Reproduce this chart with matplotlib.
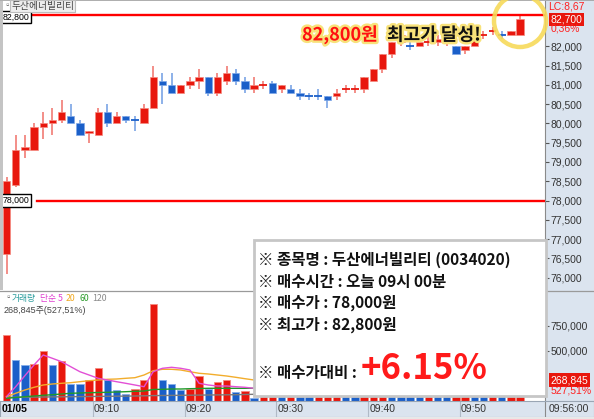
import matplotlib
matplotlib.use('Agg')
import matplotlib.pyplot as plt
import matplotlib.patheffects as pe
from matplotlib.patches import Rectangle, Ellipse
from matplotlib.ticker import FuncFormatter

plt.rcParams['font.family'] = ['Noto Sans CJK KR', 'DejaVu Sans']
NARROW = ['Liberation Sans Narrow', 'Liberation Sans', 'DejaVu Sans']

# 1-minute candles, 09:00 .. 09:56
opens = [76600, 78400, 79300, 79300, 79900, 80000, 80100, 80200, 80000, 79750,
         79700, 80300, 80000, 80200, 80100, 80000, 80400, 81100, 81000, 80800,
         81000, 81100, 81200, 80800, 81100, 81300, 81100, 80900, 81000, 81050,
         80900, 80900, 80800, 80700, 80700, 80700, 80700, 80900, 80900, 80900,
         81100, 81400, 81800, 82100, 82000, 82000, 82100, 82100, 82100, 82000,
         81900, 82000, 82300, 82400, 82300, 82300, 82300]
highs = [78600, 79700, 79700, 80000, 80300, 80400, 80600, 80500, 80100, 79800,
         80400, 80500, 80300, 80200, 80200, 80500, 81500, 81300, 81300, 81000,
         81200, 81400, 81200, 81300, 81500, 81400, 81200, 81200, 81100, 81100,
         81000, 81000, 80900, 80800, 80900, 80700, 80900, 81000, 81000, 81200,
         81400, 81800, 82100, 82400, 82100, 82100, 82300, 82300, 82200, 82000,
         82000, 82300, 82400, 82500, 82400, 82400, 82800]
lows = [76100, 78350, 79100, 79300, 79600, 79700, 80000, 80000, 79700, 79500,
        79700, 79900, 80000, 80000, 79800, 80000, 80400, 80500, 80800, 80800,
        80900, 80900, 80700, 80700, 81000, 81000, 80800, 80800, 80900, 80800,
        80800, 80800, 80600, 80600, 80600, 80400, 80600, 80800, 80800, 80800,
        81100, 81300, 81700, 82000, 81900, 82000, 82000, 82000, 82000, 81800,
        81800, 82000, 82200, 82300, 82200, 82300, 82300]
closes = [78500, 79300, 79400, 79900, 80000, 80100, 80300, 80000, 79700, 79800,
          80300, 80000, 80200, 80100, 80100, 80400, 81200, 81000, 80800, 81000,
          81100, 81200, 80800, 81200, 81300, 81100, 80900, 81000, 81000, 80800,
          81000, 80800, 80700, 80700, 80700, 80600, 80800, 80900, 80900, 81200,
          81400, 81800, 82100, 82300, 82000, 82100, 82100, 82200, 82100, 81800,
          82000, 82300, 82300, 82400, 82300, 82400, 82700]
blue_doji = [14, 33, 34, 44, 54]

volumes = [660000, 405000, 360000, 370000, 495000, 360000, 395000, 170000, 165000, 205000,
           330000, 205000, 105000, 70000, 120000, 210000, 970000, 205000, 165000, 105000,
           115000, 250000, 115000, 190000, 205000, 90000, 95000, 22000, 60000, 130000,
           90000, 110000, 80000, 70000, 95000, 120000, 150000, 100000, 80000, 140000,
           260000, 300000, 240000, 200000, 170000, 130000, 160000, 120000, 90000, 110000,
           180000, 150000, 120000, 140000, 100000, 200000, 268845]
ma5 = [38000, 138000, 248000, 355000, 455000, 422000, 388000, 338000, 288000, 255000,
       222000, 205000, 188000, 172000, 155000, 138000, 288000, 322000, 332000, 322000,
       305000, 172000, 155000, 145000, 145000, 138000, 132000, 122000]
ma20 = [38000, 72000, 105000, 132000, 155000, 165000, 172000, 178000, 188000, 198000,
        205000, 212000, 215000, 222000, 228000, 255000, 298000, 312000, 312000, 305000,
        288000, 272000, 265000, 255000, 245000, 232000, 218000, 205000]
ma60 = [22000, 30000, 38000, 45000, 52000, 58000, 65000, 72000, 75000, 78000,
        80000, 82000, 85000, 88000, 92000, 95000, 110000, 112000, 115000, 115000,
        118000, 120000, 122000, 122000, 122000, 122000, 122000, 122000]
ma120 = [32000, 32000, 33000, 34000, 35000, 36000, 37000, 38000, 39000, 40000,
         41000, 42000, 43000, 44000, 45000, 47000, 49000, 50000, 51000, 52000,
         53000, 54000, 55000, 56000, 57000, 58000, 60000, 62000]

time_labels = ['09:10', '09:20', '09:30', '09:40', '09:50']
time_pos = [10, 20, 30, 40, 50]
price_ticks = list(range(76000, 82001, 500))
info_lines = ['※ 종목명 : 두산에너빌리티 (0034020)', '※ 매수시간 : 오늘 09시 00분',
              '※ 매수가 : 78,000원', '※ 최고가 : 82,800원']

RED = '#e8170d'
BLUE = '#1a5fc9'
W, H = 594, 419
PANEL = '#dbe4ef'


def box(x0, y0, x1, y1):
    return [x0 / W, 1 - y1 / H, (x1 - x0) / W, (y1 - y0) / H]


def fpt(x, y):
    return x / W, 1 - y / H


fig = plt.figure(figsize=(W / 100, H / 100), dpi=100)
fig.patch.set_facecolor('white')
fig.add_artist(Rectangle(fpt(545, 400.5), 49 / W, 400.5 / H, transform=fig.transFigure,
                         facecolor=PANEL, edgecolor='none', zorder=-1))

ax = fig.add_axes(box(0, 1, 545, 290))
axv = fig.add_axes(box(0, 291, 545, 400.5), sharex=ax)
axx = fig.add_axes(box(0, 400.5, 594, 416.5))

xmin, xmax = -0.709, 58.72
idx = list(range(len(closes)))

# candles
for i in idx:
    o, h, l, c = opens[i], highs[i], lows[i], closes[i]
    up = c > o or (c == o and i not in blue_doji)
    col = RED if up else BLUE
    wick = '#f07068' if up else '#6f9de3'
    ax.vlines(i, l, h, color=wick, lw=1.1, zorder=2)
    if c == o:
        ax.hlines(c, i - 0.42, i + 0.42, color=col, lw=1.3, zorder=3)
    else:
        ax.bar(i, abs(c - o), bottom=min(o, c), width=0.8, color=col,
               edgecolor='#f58a80' if up else '#7fa8e8', lw=0.5, zorder=3)

ax.axhline(82800, xmin=33 / 545, xmax=1, color='#ff0000', lw=1.7, zorder=4)
ax.axhline(78000, xmin=37 / 545, xmax=1, color='#ff0000', lw=1.7, zorder=4)
for lvl, txt in [(82760, '82,800'), (78000, '78,000')]:
    ax.text(0.004, lvl, txt, transform=ax.get_yaxis_transform(), fontsize=6.3,
            family=NARROW, va='center', ha='left', zorder=5,
            bbox=dict(boxstyle='square,pad=0.2', facecolor='white', edgecolor='black', lw=1))

ax.set_xlim(xmin, xmax)
ax.set_ylim(75679, 83176)
ax.yaxis.tick_right()
ax.set_yticks(price_ticks)
ax.yaxis.set_major_formatter(FuncFormatter(lambda v, p: f'{int(v):,}'))
ax.tick_params(axis='y', length=3, color='#555555', labelsize=7.5, labelcolor='#333333', pad=1)
ax.tick_params(axis='x', bottom=False, labelbottom=False)
plt.setp(ax.get_yticklabels(), family=NARROW)
for s in ['top', 'left', 'bottom']:
    ax.spines[s].set_visible(False)
ax.spines['right'].set_color('#8a8a8a')
ax.patch.set_alpha(0)

# right-side markers
ax.text(1.005, 83030, 'LC:8,67', transform=ax.get_yaxis_transform(), color='#ff2020',
        fontsize=7.5, family=NARROW, va='center', ha='left')
ax.text(1.01, 82690, '82,700', transform=ax.get_yaxis_transform(), color='white',
        fontsize=7.5, family=NARROW, va='center', ha='left',
        bbox=dict(boxstyle='square,pad=0.15', facecolor='#e8170d', edgecolor='none'))
ax.text(1.01, 82460, '0,36%', transform=ax.get_yaxis_transform(), color='#ff2020',
        fontsize=7.5, family=NARROW, va='center', ha='left')

# volume
vcols = [RED if i == 0 or volumes[i] >= volumes[i - 1] else BLUE for i in idx]
vedge = ['#f58a80' if c == RED else '#86aeea' for c in vcols]
axv.bar(idx, volumes, width=0.8, color=vcols, edgecolor=vedge, lw=0.6, zorder=2)
mi = list(range(len(ma5)))
axv.plot(mi, ma120, color='#7a7a7a', lw=1, zorder=3)
axv.plot(mi, ma60, color='#1f9a2a', lw=1, zorder=3)
axv.plot(mi, ma20, color='#f2ad2c', lw=1, zorder=3)
axv.plot(mi, ma5, color='#e24fd6', lw=1, zorder=3)
axv.set_ylim(0, 1095000)
axv.yaxis.tick_right()
axv.set_yticks([500000, 750000])
axv.yaxis.set_major_formatter(FuncFormatter(lambda v, p: f'{int(v):,}'))
axv.tick_params(axis='y', length=3, color='#555555', labelsize=7.5, labelcolor='#333333', pad=1)
axv.tick_params(axis='x', bottom=False, labelbottom=False)
plt.setp(axv.get_yticklabels(), family=NARROW)
for s in ['top', 'left', 'bottom']:
    axv.spines[s].set_visible(False)
axv.spines['right'].set_color('#8a8a8a')
axv.patch.set_alpha(0)
axv.text(1.01, 205000, '268,845', transform=axv.get_yaxis_transform(), color='white',
         fontsize=7.5, family=NARROW, va='center', ha='left',
         bbox=dict(boxstyle='square,pad=0.15', facecolor='#e8170d', edgecolor='none'))
axv.text(1.01, 105000, '527,51%', transform=axv.get_yaxis_transform(), color='#ff2020',
         fontsize=7.5, family=NARROW, va='center', ha='left')

# legend of volume panel, laid out piece by piece
renderer = fig.canvas.get_renderer()
ly = 1 - 298 / H
fig.text(4 / W, ly, '▫', fontsize=5.5, color='#555555', va='center')
parts = [('거래량', '#2a9d9d'), ('단순 5', '#e040d0'), ('20', '#f0a820'),
         ('60', '#2a9a2a'), ('120', '#8a8a8a')]
cx = 12
for t, c in parts:
    tx = fig.text(cx / W, ly, t, fontsize=6.3, color=c, va='center')
    cx = tx.get_window_extent(renderer).x1 + 3.5
fig.text(4 / W, 1 - 310 / H, '268,845주(527,51%)', fontsize=6.5, color='#444444',
         va='center', family=NARROW + ['Noto Sans CJK KR'])

# time strip
axx.set_facecolor(PANEL)
axx.set_xlim(xmin, xmin + (xmax - xmin) * 594 / 545)
axx.set_ylim(0, 1)
axx.set_xticks([])
axx.set_yticks([])
for s in axx.spines.values():
    s.set_color('#9aa6b4')
    s.set_linewidth(0.8)
axx.text(-0.55, 0.45, '01/05', fontsize=7.5, fontweight='bold', va='center', ha='left',
         family=NARROW, color='black')
for p, t in zip(time_pos, time_labels):
    axx.axvline(p - 0.57, color='#b0bac6', lw=0.8)
    axx.text(p - 0.45, 0.45, t, fontsize=7.5, va='center', ha='left', family=NARROW,
             color='#333333')
axx.axvline(58.72, color='#8a8a8a', lw=0.8)
axx.text(59.1, 0.45, '09:56:00', fontsize=7.5, va='center', ha='left', family=NARROW,
         color='#333333')
fig.add_artist(Rectangle((0, 0), 1, 2.5 / H, transform=fig.transFigure,
                         facecolor='#e8e8e8', edgecolor='none'))

# frame lines
fig.add_artist(plt.Line2D([0, 1], [1 - 290.5 / H] * 2, color='#9a9a9a', lw=0.9))
fig.add_artist(plt.Line2D([0, 1], [1 - 0.5 / H] * 2, color='#a0a0a0', lw=1.2))
fig.add_artist(Rectangle(fpt(0, 290), 2.5 / W, 289 / H, transform=fig.transFigure,
                         facecolor='#c4c4c4', edgecolor='none', zorder=5))

# title
fig.text(3 / W, 1 - 6 / H, '▫', fontsize=5.5, color='#555555', va='center')
fig.text(11 / W, 1 - 6 / H, '두산에너빌리티', fontsize=7, color='#444444', va='center',
         bbox=dict(boxstyle='square,pad=0.08', facecolor='#eeeeee', edgecolor='#bdbdbd', lw=0.8))

# highlight circle
fig.add_artist(Ellipse(fpt(520, 21), 52 / W, 52 / H, transform=fig.transFigure,
                       fill=False, edgecolor='#f7da5a', lw=3.2, alpha=0.9, zorder=6))

# headline
glow = [pe.withStroke(linewidth=3.5, foreground='#f8e27a')]
fig.text(302 / W, 1 - 35 / H, '82,800원', fontsize=13, fontweight='bold',
         color='#ff1010', va='center', ha='left', zorder=7, path_effects=glow)
fig.text(387 / W, 1 - 35 / H, '최고가 달성!', fontsize=13, fontweight='bold',
         color='#111111', va='center', ha='left', zorder=7, path_effects=glow)

# info box
fig.add_artist(Rectangle(fpt(254, 396), 292 / W, 156 / H, transform=fig.transFigure,
                         facecolor='white', edgecolor='#c6c6c6', lw=2, zorder=8))
for k, line in enumerate(info_lines):
    fig.text(258 / W, 1 - (260 + 21.5 * k) / H, line, fontsize=11.2, fontweight='bold',
             color='#111111', va='center', ha='left', zorder=9)
fig.text(258 / W, 1 - 373 / H, '※ 매수가대비 :', fontsize=11.2, fontweight='bold',
         color='#111111', va='center', ha='left', zorder=9)
fig.text(361 / W, 1 - 368 / H, '+6.15%', fontsize=25, fontweight='bold',
         color='#ff1a1a', va='center', ha='left', zorder=9)

fig.savefig('out.png', dpi=100)
